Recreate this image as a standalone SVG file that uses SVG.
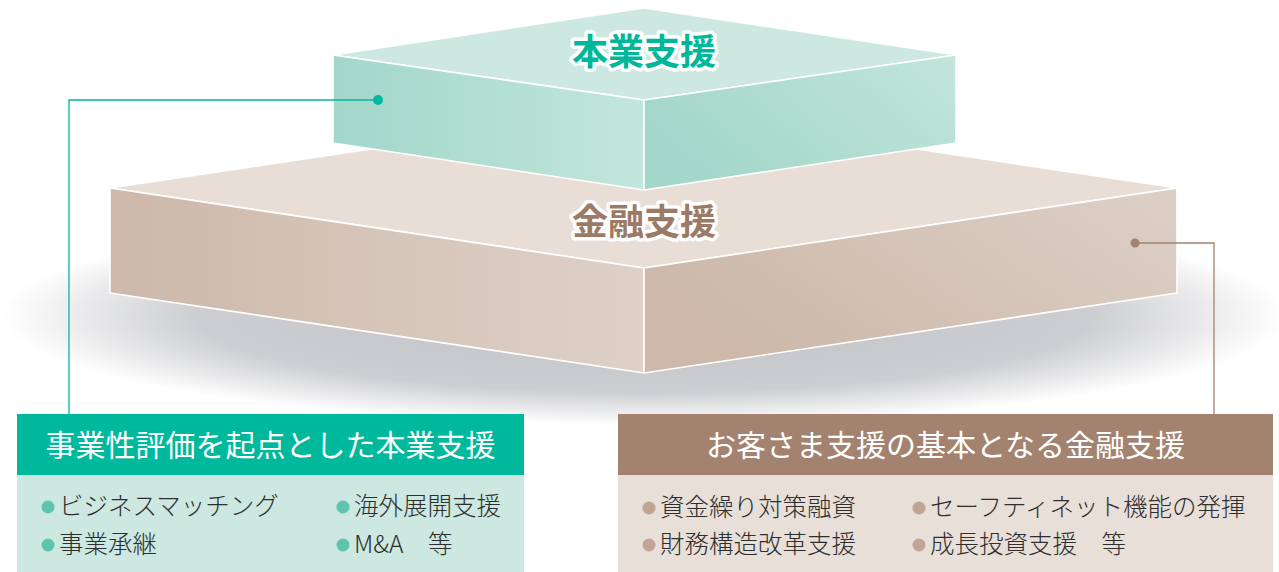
<svg xmlns="http://www.w3.org/2000/svg" width="1279" height="572" viewBox="0 0 1279 572">
<style>
.edge{stroke:#fff;stroke-width:1.6;stroke-linejoin:round}
.title{font-family:"Noto Sans CJK JP","Noto Sans",sans-serif;font-weight:700;font-size:36px;text-anchor:middle;stroke:#fff;stroke-width:7;stroke-linejoin:round;paint-order:stroke}
.head{font-family:"Noto Sans CJK JP","Noto Sans",sans-serif;font-weight:400;font-size:30px;fill:#fff;text-anchor:middle}
.item{font-family:"Noto Sans CJK JP","Noto Sans",sans-serif;font-weight:300;font-size:24.5px;fill:#2e2e2e}
.connG{fill:none;stroke:#00b89c;stroke-width:1.3}
.connB{fill:none;stroke:#a3836f;stroke-width:1.3}
</style>
<defs>
<radialGradient id="shadow" cx="0.5" cy="0.5" r="0.5">
<stop offset="0" stop-color="#c0c1c4"/>
<stop offset="0.7" stop-color="#cdced1"/>
<stop offset="1" stop-color="#ffffff"/>
</radialGradient>
<linearGradient id="gL" x1="0" y1="0" x2="1" y2="0">
<stop offset="0" stop-color="#a2d7c9"/>
<stop offset="1" stop-color="#c3e6dc"/>
</linearGradient>
<linearGradient id="gR" x1="0" y1="0.5" x2="1" y2="0">
<stop offset="0" stop-color="#a3d7c9"/>
<stop offset="1" stop-color="#c2e5db"/>
</linearGradient>
<linearGradient id="bL" x1="0" y1="0" x2="1" y2="0">
<stop offset="0" stop-color="#cdb8a9"/>
<stop offset="1" stop-color="#ded1c8"/>
</linearGradient>
<linearGradient id="bR" x1="0" y1="0.5" x2="1" y2="0">
<stop offset="0" stop-color="#cdb8a9"/>
<stop offset="1" stop-color="#ddd0c7"/>
</linearGradient>
</defs>
<rect width="1279" height="572" fill="#fff"/>
<ellipse cx="644" cy="315" rx="642" ry="110" fill="url(#shadow)"/>

<g id="kinyu-block">
<polygon class="edge" points="644,108 1177,188 644,268 110,188" fill="#e8ded6"/>
<polygon class="edge" points="110,188 644,268 644,373 110,293" fill="url(#bL)"/>
<polygon class="edge" points="644,268 1177,188 1177,293 644,373" fill="url(#bR)"/>
<text class="title" x="644" y="235" fill="#9c7a66">金融支援</text>
</g>

<g id="hongyo-block">
<polygon class="edge" points="644,8 956,55 644,100 333,55" fill="#cce8e0"/>
<polygon class="edge" points="333,55 644,100 644,190 333,143" fill="url(#gL)"/>
<polygon class="edge" points="644,100 956,55 956,143 644,190" fill="url(#gR)"/>
<text class="title" x="644" y="65" fill="#00b899">本業支援</text>
</g>

<g id="connectors">
<polyline class="connG" points="378,100 69,100 69,414"/>
<circle cx="378" cy="100" r="5" fill="#00b89c"/>
<polyline class="connB" points="1135,243 1214,243 1214,414"/>
<circle cx="1135" cy="243" r="4.5" fill="#a3836f"/>
</g>

<g id="hongyo-box">
<rect x="17" y="414" width="507" height="61" fill="#00b89c"/>
<rect x="17" y="475" width="507" height="97" fill="#cce8e0"/>
<text class="head" x="270.5" y="456">事業性評価を起点とした本業支援</text>
<g fill="#5fc4ae">
<circle cx="48" cy="507" r="6.5"/>
<circle cx="48" cy="545" r="6.5"/>
<circle cx="343" cy="507" r="6.5"/>
<circle cx="343" cy="545" r="6.5"/>
</g>
<text class="item" x="59" y="515">ビジネスマッチング</text>
<text class="item" x="59" y="553">事業承継</text>
<text class="item" x="354" y="515">海外展開支援</text>
<text class="item" x="354" y="553">M&amp;A　等</text>
</g>

<g id="kinyu-box">
<rect x="618" y="414" width="655" height="61" fill="#a3836f"/>
<rect x="618" y="475" width="655" height="97" fill="#e8dfd8"/>
<text class="head" x="945.5" y="456">お客さま支援の基本となる金融支援</text>
<g fill="#c0a594">
<circle cx="649" cy="508" r="6.5"/>
<circle cx="649" cy="545" r="6.5"/>
<circle cx="919" cy="508" r="6.5"/>
<circle cx="919" cy="545" r="6.5"/>
</g>
<text class="item" x="660" y="516">資金繰り対策融資</text>
<text class="item" x="660" y="553">財務構造改革支援</text>
<text class="item" x="930" y="516">セーフティネット機能の発揮</text>
<text class="item" x="930" y="553">成長投資支援　等</text>
</g>
</svg>
